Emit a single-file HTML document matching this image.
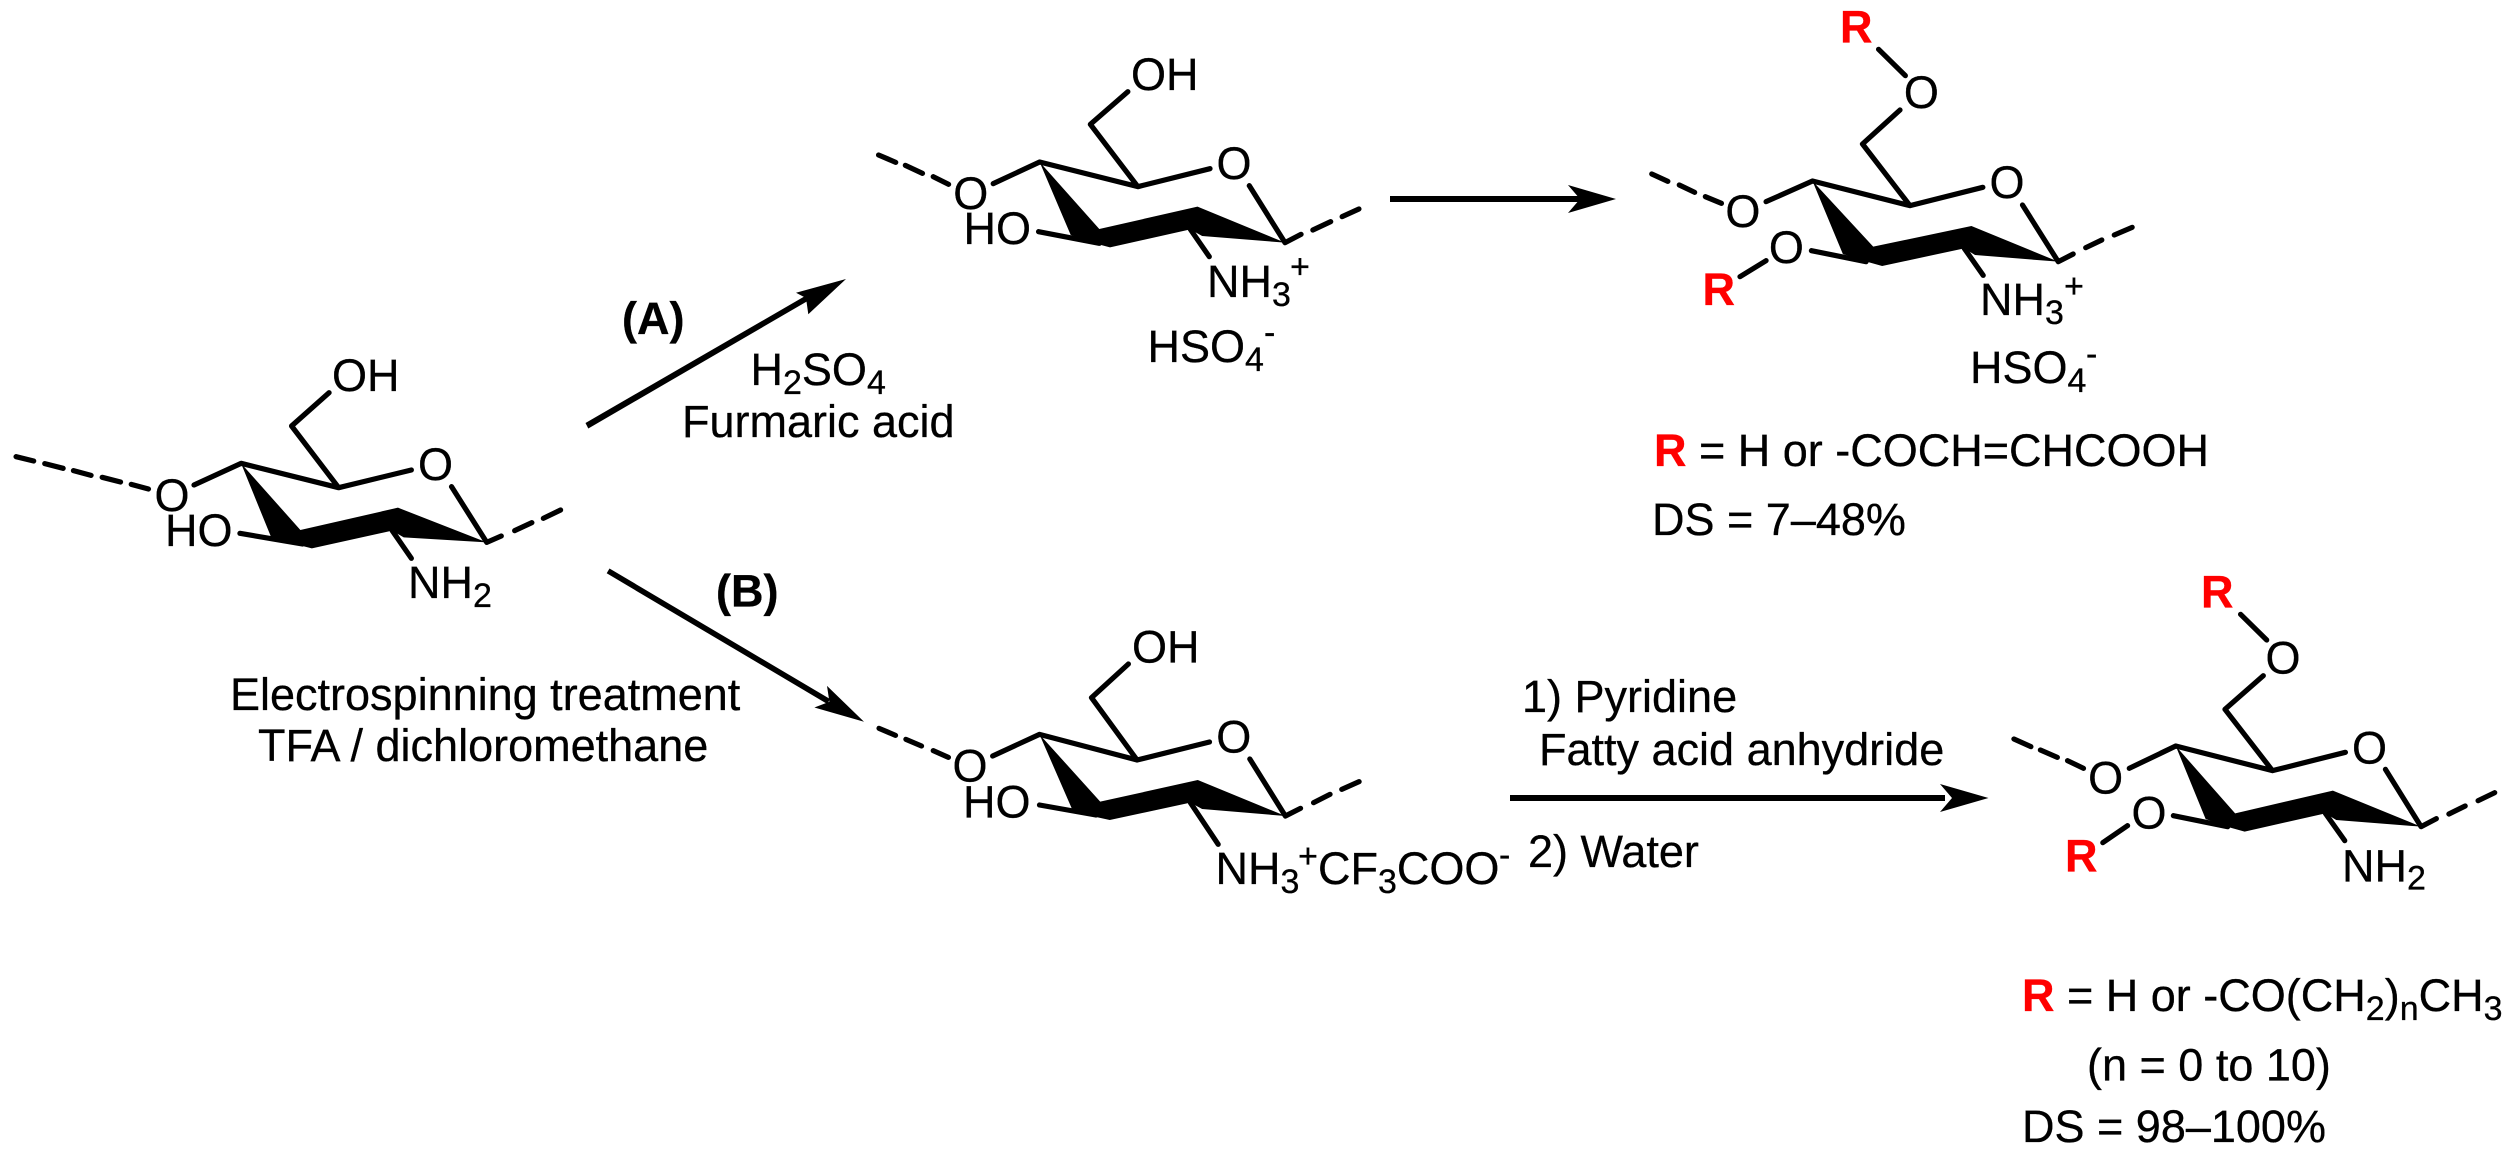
<!DOCTYPE html>
<html lang="en">
<head>
<meta charset="utf-8">
<title>Chitosan modification scheme</title>
<style>
html,body{margin:0;padding:0;background:#fff;width:2512px;height:1162px;overflow:hidden}
svg{display:block}
text{font-family:"Liberation Sans",Arial,sans-serif;font-size:45px;fill:#000;stroke:#000;stroke-width:.3}
.b{font-weight:bold}
.r{font-weight:bold;fill:#f00;stroke:#f00}
.s{font-size:34px}
.m{text-anchor:middle}
path.l{fill:none;stroke:#000;stroke-width:5.2;stroke-linecap:round;stroke-linejoin:round;vector-effect:non-scaling-stroke}
</style>
</head>
<body>
<svg xmlns="http://www.w3.org/2000/svg" width="2512" height="1162" viewBox="0 0 2512 1162">
<rect width="2512" height="1162" fill="#fff"/>

<!-- Molecule 1 -->
<g transform="translate(0 340) scale(.38265 .33333)">
<path class="l" d="M42 350L88 363M117 371L165 385M192 392L238 406M267 412L315 426M343 433L388 447M507 435L630 370L885 443L1075 390M885 443L762 258L860 158M1180 440L1272 607L1310 588M1345 572L1390 548M1420 535L1465 510M1025 572L1075 655M627 580L790 612"/>
<polygon points="630,370 785,570 1040,503 1272,607 1055,592 1025,572 815,625 770,612 708,590"/>
</g>
<text x="172" y="511" class="m">O</text>
<text x="332" y="391">OH</text>
<text x="435.5" y="480" class="m">O</text>
<text x="165" y="546">HO</text>
<text x="408" y="598">NH<tspan class="s" dy="9">2</tspan></text>

<!-- Molecule 2 -->
<g transform="translate(860 40) scale(.35714 .33333)">
<path class="l" d="M52 345L100 367M127 376L175 400M205 410L248 433M373 431L503 366L778 440L980 386M778 440L645 253L750 155M1090 437L1190 608L1235 583M1268 570L1318 545M1350 530L1397 507M925 568L978 650M500 575L670 610"/>
<polygon points="503,366 670,567 945,500 1190,608 958,588 925,568 700,622 650,608 590,585"/>
</g>
<text x="970.7" y="209" class="m">O</text>
<text x="963.5" y="244">HO</text>
<text x="1131" y="90">OH</text>
<text x="1234" y="179" class="m">O</text>
<text x="1207" y="297">NH<tspan class="s" dy="9">3</tspan></text>
<text x="1290" y="278" class="s">+</text>
<text x="1147.5" y="362">HSO<tspan class="s" dy="9">4</tspan></text>
<text x="1264" y="344" class="s">-</text>

<!-- Molecule 3 -->
<g transform="translate(1600 0) scale(.35714 .33333)">
<path class="l" d="M145 522L190 544M222 555L265 577M295 590L340 610M465 605L595 543L868 617L1072 562M868 617L735 432L840 330M855 227L780 148M1183 615L1283 785L1325 762M1360 743L1405 720M1440 705L1490 682M1020 745L1073 826M592 752L745 785M465 782L392 830"/>
<polygon points="595,543 765,740 1040,678 1283,785 1050,765 1020,745 790,798 740,783 680,762"/>
</g>
<text x="1742.9" y="227" class="m">O</text>
<text x="1921.4" y="108" class="m">O</text>
<text x="2007" y="198" class="m">O</text>
<text x="1786.4" y="263" class="m">O</text>
<text x="1840" y="42.7" class="r">R</text>
<text x="1702.5" y="305" class="r">R</text>
<text x="1980" y="315">NH<tspan class="s" dy="9">3</tspan></text>
<text x="2064" y="297.5" class="s">+</text>
<text x="1970" y="383">HSO<tspan class="s" dy="9">4</tspan></text>
<text x="2086" y="365.4" class="s">-</text>

<!-- Molecule 4 -->
<g transform="translate(840 610) scale(.43367 .33333)">
<path class="l" d="M90 355L128 376M152 388L188 408M215 422L250 442M352 438L460 373L685 450L852 396M685 450L580 263L665 162M945 447L1027 618L1062 595M1092 578L1130 553M1157 538L1197 515M808 578L872 703M460 585L590 615"/>
<polygon points="460,373 600,575 825,510 1027,618 835,597 808,578 622,630 580,618 535,597"/>
</g>
<text x="970" y="781.7" class="m">O</text>
<text x="1132" y="662.7">OH</text>
<text x="1233.8" y="752.7" class="m">O</text>
<text x="963" y="817.3">HO</text>
<text x="1215.5" y="884">NH<tspan class="s" dy="9">3</tspan></text>
<text x="1298" y="867.5" class="s">+</text>
<text x="1318" y="884">CF<tspan class="s" dy="9">3</tspan><tspan dy="-9">COO</tspan></text>
<text x="1499" y="866.7" class="s">-</text>

<!-- Molecule 5 -->
<g transform="translate(1980 550) scale(.33929 .33333)">
<path class="l" d="M100 567L150 590M178 600L228 622M258 632L305 655M440 655L577 588L862 662L1077 607M862 662L722 478L835 377M845 270L768 193M1195 658L1300 830L1345 806M1382 792L1430 768M1468 752L1517 728M570 797L730 830M435 827L362 878M1018 790L1075 872"/>
<polygon points="577,588 752,790 1040,722 1300,830 1050,810 1018,790 780,845 735,832 665,807"/>
</g>
<text x="2105.6" y="793.3" class="m">O</text>
<text x="2283" y="673.3" class="m">O</text>
<text x="2369.5" y="763.3" class="m">O</text>
<text x="2149" y="828.3" class="m">O</text>
<text x="2201" y="607.3" class="r">R</text>
<text x="2065" y="871.7" class="r">R</text>
<text x="2342" y="881.7">NH<tspan class="s" dy="8">2</tspan></text>

<!-- Arrows -->
<g fill="#000" stroke="none">
<polygon points="588.3,428.5 585.5,423 806,295.5 808.5,300.5"/>
<polygon points="846,279 796,292.7 806,298 808.3,314.3"/>
<polygon points="606.7,573.3 609.5,568.5 830,699 827.3,704"/>
<polygon points="864,721.7 827,685.9 829.4,701.7 814.4,707.5"/>
<rect x="1390" y="196" width="190" height="6"/>
<polygon points="1616,199 1568,185 1580,199 1568,213"/>
<rect x="1510" y="795" width="435" height="6"/>
<polygon points="1988.5,798 1940,784 1952,798 1940,812"/>
</g>

<!-- Reagents -->
<text x="622" y="334" class="b">(A)</text>
<text x="750.5" y="385">H<tspan class="s" dy="9">2</tspan><tspan dy="-9">SO</tspan><tspan class="s" dy="9">4</tspan></text>
<text x="682" y="437">Furmaric acid</text>
<text x="716" y="606.3" class="b">(B)</text>
<text x="230" y="710">Electrospinning treatment</text>
<text x="258" y="761">TFA / dichloromethane</text>
<text x="1522" y="712">1) Pyridine</text>
<text x="1539" y="765">Fatty acid anhydride</text>
<text x="1528" y="867">2) Water</text>

<!-- Notes -->
<text x="1654" y="466"><tspan class="r">R</tspan> = H or -COCH=CHCOOH</text>
<text x="1652" y="535">DS = 7–48%</text>
<text x="2022" y="1011"><tspan class="r">R</tspan> = H or -CO(CH<tspan class="s" dy="9">2</tspan><tspan dy="-9">)</tspan><tspan class="s" dy="9">n</tspan><tspan dy="-9">CH</tspan><tspan class="s" dy="9">3</tspan></text>
<text x="2087" y="1080.7">(n = 0 to 10)</text>
<text x="2022" y="1142">DS = 98–100%</text>
</svg>
</body>
</html>
